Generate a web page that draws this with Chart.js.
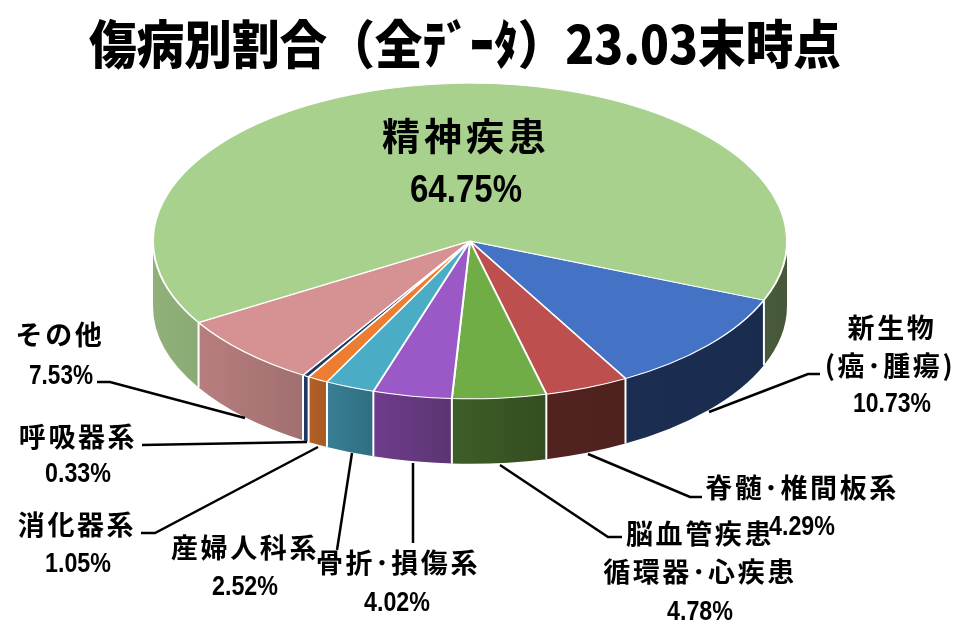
<!DOCTYPE html>
<html lang="ja">
<head>
<meta charset="utf-8">
<title>傷病別割合</title>
<style>
    html, body { margin: 0; padding: 0; background: #fff; }
    canvas { display: block; }
</style>
</head>
<body>
<canvas id="chartCanvas" width="972" height="636"></canvas>
<script src="https://cdn.jsdelivr.net/npm/chart.js@4/dist/chart.umd.min.js"></script>
<script>
const categories = ["新生物", "脊髄･椎間板系", "循環器･心疾患", "骨折･損傷系", "産婦人科系", "消化器系", "呼吸器系", "その他", "精神疾患"];
const values = [10.73, 4.29, 4.78, 4.02, 2.52, 1.05, 0.33, 7.53, 64.75];
const topColors = ["#4472C4", "#BE4F4F", "#70AD47", "#9B59C8", "#4BACC6", "#ED7D31", "#1F3864", "#D69292", "#A9D18E"];
const wallColors = [
    ["#1B2E52", "#1A2C4E"], ["#522220", "#4E211F"], ["#3E5E28", "#344D20"],
    ["#703C8E", "#5A3570"], ["#387F94", "#2F6E80"], ["#B26026", "#A85A22"],
    ["#1F3864", "#1F3864"], ["#B87E7E", "#A06F6F"], ["#90B17A", "#46573A"]
];

const titleText = "傷病別割合（全ﾃﾞｰﾀ）23.03末時点";
const TILT = 0.498;
const CENTER_Y = 241;
const DEPTH = 65;
const JP = "'Noto Sans CJK JP'";
const NUM = "'Liberation Sans'";

// ============================
// ラベルの位置 (categories と同じ順)
// ============================
const labelLayout = [
    { lines: [["新生物", 892, 338], ["(癌･腫瘍)", 890, 376]], pct: [892, 412, 78], leader: [[709, 412], [808, 374], [820, 374]] },
    { lines: [["脊髄･椎間板系", 802, 498]], pct: [802, 535, 66], leader: [[588, 454], [690, 497], [702, 497]] },
    { lines: [["脳血管疾患", 700, 544], ["循環器･心疾患", 700, 582]], pct: [700, 620, 66], leader: [[500, 465], [608, 537], [622, 537]] },
    { lines: [["骨折･損傷系", 398, 573]], pct: [397, 611, 66], leader: [[413, 463], [413, 543]] },
    { lines: [["産婦人科系", 245, 558]], pct: [245, 595, 66], leader: [[352, 453], [337, 550]] },
    { lines: [["消化器系", 77, 535]], pct: [78, 572, 66], leader: [[141, 533], [155, 533], [318, 447]] },
    { lines: [["呼吸器系", 78, 447]], pct: [78, 482, 66], leader: [[142, 445], [307, 442]] },
    { lines: [["その他", 60, 345]], pct: [61, 384, 64], leader: [[97, 382], [110, 382], [245, 418]] },
    { lines: [], pct: null, leader: [] }
];

function wallPieces(arc) {
    // 手前側 (canvas 角度 0〜π) だけ側面が見える
    const pieces = [];
    [0, Math.PI * 2].forEach(function (base) {
        const a0 = Math.max(arc.startAngle, base);
        const a1 = Math.min(arc.endAngle, base + Math.PI);
        if (a1 > a0) pieces.push([a0, a1]);
    });
    return pieces;
}

const pie3d = {
    id: "pie3d",
    beforeDatasetsDraw: function (chart) {
        const ctx = chart.ctx;
        const arcs = chart.getDatasetMeta(0).data;
        const edges = [];

        arcs.forEach(function (arc, i) {
            const r = arc.outerRadius;
            const ry = r * TILT;
            const pieces = wallPieces(arc);
            if (!pieces.length) return;
            const xs = [];
            pieces.forEach(function (p) {
                xs.push(arc.x + r * Math.cos(p[0]), arc.x + r * Math.cos(p[1]));
            });
            const grad = ctx.createLinearGradient(Math.min.apply(null, xs), 0, Math.max.apply(null, xs), 0);
            grad.addColorStop(0, wallColors[i][0]);
            grad.addColorStop(1, wallColors[i][1]);

            pieces.forEach(function (p) {
                ctx.beginPath();
                ctx.ellipse(arc.x, CENTER_Y, r, ry, 0, p[0], p[1]);
                ctx.ellipse(arc.x, CENTER_Y + DEPTH, r, ry, 0, p[1], p[0], true);
                ctx.closePath();
                ctx.fillStyle = grad;
                ctx.fill();
            });
            edges.push(arc.startAngle);
        });

        ctx.strokeStyle = "#fff";
        ctx.lineWidth = 2;
        edges.forEach(function (a) {
            const s = Math.sin(a);
            if (s <= 0) return;
            const r = arcs[0].outerRadius;
            const x = arcs[0].x + r * Math.cos(a);
            const y = CENTER_Y + r * TILT * s;
            ctx.beginPath();
            ctx.moveTo(x, y);
            ctx.lineTo(x, y + DEPTH);
            ctx.stroke();
        });

        // 上面はこの変換で楕円になる
        ctx.save();
        ctx.translate(0, CENTER_Y);
        ctx.scale(1, TILT);
        ctx.translate(0, -arcs[0].y);
    },
    afterDatasetsDraw: function (chart) {
        chart.ctx.restore();
    },
    afterDraw: function (chart) {
        const ctx = chart.ctx;
        ctx.save();
        ctx.textAlign = "center";
        ctx.textBaseline = "alphabetic";
        ctx.fillStyle = "#000";

        ctx.font = "900 52px " + JP;
        ctx.fillText(titleText, 465, 64, 752);

        ctx.strokeStyle = "#000";
        ctx.lineWidth = 2.5;
        labelLayout.forEach(function (item, i) {
            if (item.leader.length) {
                ctx.beginPath();
                item.leader.forEach(function (pt, k) {
                    if (k === 0) ctx.moveTo(pt[0], pt[1]);
                    else ctx.lineTo(pt[0], pt[1]);
                });
                ctx.stroke();
            }
            ctx.font = "700 27px " + JP;
            ctx.letterSpacing = "2.6px";
            item.lines.forEach(function (line) {
                ctx.fillText(line[0], line[1], line[2]);
            });
            ctx.letterSpacing = "0px";
            if (item.pct) {
                ctx.font = "700 27px " + NUM;
                ctx.fillText(values[i].toFixed(2) + "%", item.pct[0], item.pct[1], item.pct[2]);
            }
        });

        // 精神疾患は円の上に載せる
        ctx.font = "700 38px " + JP;
        ctx.letterSpacing = "4px";
        ctx.fillText(categories[8], 466, 150);
        ctx.letterSpacing = "0px";
        ctx.font = "700 38px " + NUM;
        ctx.fillText(values[8].toFixed(2) + "%", 466, 202, 112);
        ctx.restore();
    }
};

new Chart(document.getElementById("chartCanvas"), {
    type: "pie",
    data: {
        labels: categories,
        datasets: [{
            data: values,
            backgroundColor: topColors,
            borderColor: "#fff",
            borderWidth: 2,
            clip: false
        }]
    },
    options: {
        responsive: false,
        animation: false,
        rotation: 112,
        radius: 317,
        layout: { padding: { right: 32 } },
        plugins: {
            legend: { display: false },
            tooltip: { enabled: false }
        }
    },
    plugins: [pie3d]
});
</script>
</body>
</html>
